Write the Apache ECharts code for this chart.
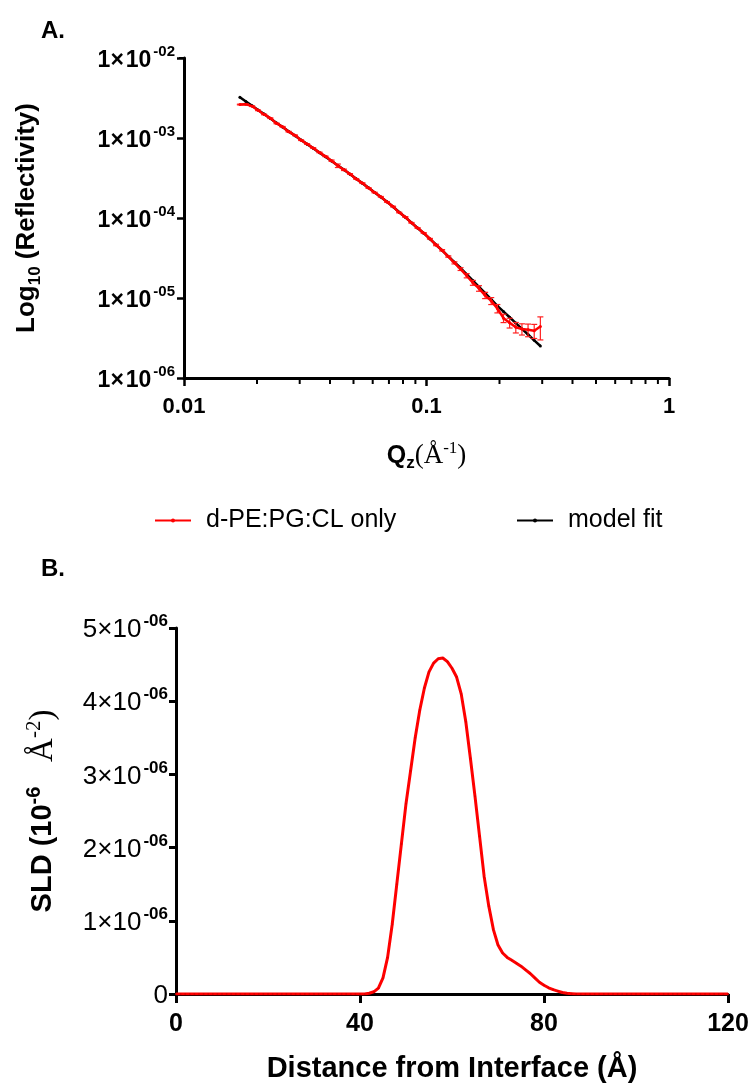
<!DOCTYPE html>
<html>
<head>
<meta charset="utf-8">
<script src="https://cdn.jsdelivr.net/npm/echarts@6/dist/echarts.min.js"></script>
<style>
html,body{margin:0;padding:0;background:#fff;}
#chart{width:754px;height:1084px;}
</style>
</head>
<body>
<div id="chart"></div>
<script>
// ---------- Panel A data ----------
const qValues = [
  0.0170, 0.0180, 0.0191, 0.0202, 0.0214, 0.0227, 0.0241, 0.0255, 0.0270, 0.0287,
  0.0304, 0.0322, 0.0341, 0.0362, 0.0383, 0.0406, 0.0431, 0.0457, 0.0484, 0.0513,
  0.0544, 0.0577, 0.0611, 0.0648, 0.0687, 0.0728, 0.0772, 0.0818, 0.0867, 0.0919,
  0.0974, 0.1033, 0.1095, 0.1160, 0.1230, 0.1304, 0.1382, 0.1465, 0.1553, 0.1646,
  0.1745, 0.1849, 0.1960, 0.2078, 0.2202, 0.2335, 0.2475, 0.2623, 0.2781, 0.2948
];
const reflectivity = [
  2.62e-3, 2.64e-3, 2.50e-3, 2.22e-3, 1.97e-3, 1.77e-3, 1.52e-3, 1.38e-3, 1.20e-3, 1.08e-3,
  9.4e-4, 8.4e-4, 7.5e-4, 6.6e-4, 5.9e-4, 5.2e-4, 4.5e-4, 4.0e-4, 3.55e-4, 3.08e-4,
  2.73e-4, 2.37e-4, 2.08e-4, 1.84e-4, 1.59e-4, 1.39e-4, 1.17e-4, 1.03e-4, 8.7e-5, 7.5e-5,
  6.5e-5, 5.5e-5, 4.6e-5, 3.95e-5, 3.3e-5, 2.75e-5, 2.3e-5, 1.9e-5, 1.55e-5, 1.32e-5,
  1.08e-5, 9.2e-6, 7.4e-6, 5.6e-6, 4.9e-6, 4.3e-6, 4.1e-6, 4.0e-6, 3.9e-6, 4.4e-6
];
const relErrPct = [
  1, 1, 1, 1, 1, 1, 1, 1, 1, 1,
  1, 1, 1, 1, 1, 2, 5, 2, 1, 1,
  1, 1, 1, 1, 1, 1, 1, 1, 1, 1,
  1, 1, 2, 2, 2, 3, 4, 6, 7, 8,
  9, 10, 12, 12, 14, 15, 16, 18, 20, 32
];
const modelFit = [
  3.24e-3, 2.86e-3, 2.53e-3, 2.24e-3, 1.99e-3, 1.75e-3, 1.54e-3, 1.37e-3, 1.21e-3, 1.07e-3,
  9.46e-4, 8.38e-4, 7.43e-4, 6.56e-4, 5.82e-4, 5.15e-4, 4.54e-4, 4.01e-4, 3.53e-4, 3.10e-4,
  2.71e-4, 2.38e-4, 2.09e-4, 1.83e-4, 1.60e-4, 1.38e-4, 1.18e-4, 1.02e-4, 8.74e-5, 7.51e-5,
  6.46e-5, 5.48e-5, 4.63e-5, 3.93e-5, 3.31e-5, 2.80e-5, 2.37e-5, 1.98e-5, 1.65e-5, 1.38e-5,
  1.15e-5, 9.59e-6, 7.98e-6, 6.76e-6, 5.74e-6, 4.86e-6, 4.12e-6, 3.50e-6, 2.96e-6, 2.51e-6
];
const xMinorTicksA = [0.02,0.03,0.04,0.05,0.06,0.07,0.08,0.09,0.2,0.3,0.4,0.5,0.6,0.7,0.8,0.9];
const yMinorMantissas = [2,3,4,5,6,7,8,9];
const yMinorDecades = [-6,-5,-4,-3];
const seriesNames = ['d-PE:PG:CL only', 'model fit'];

// ---------- Panel B data ----------
const distance = [];
for (let i = 0; i <= 120; i++) distance.push(i);
const sldValues = [ // units of 1e-6 Å^-2, one per Å from 0 to 120
  0,0,0,0,0,0,0,0,0,0,
  0,0,0,0,0,0,0,0,0,0,
  0,0,0,0,0,0,0,0,0,0,
  0,0,0,0,0,0,0,0,0,0,
  0,0,0.01,0.03,0.08,0.22,0.5,0.95,1.5,2.05,
  2.6,3.05,3.5,3.88,4.18,4.40,4.52,4.58,4.59,4.54,
  4.45,4.33,4.10,3.72,3.22,2.70,2.15,1.60,1.20,0.88,
  0.67,0.56,0.50,0.46,0.42,0.38,0.33,0.28,0.22,0.16,
  0.12,0.085,0.06,0.04,0.02,0.01,0.005,0,0,0,
  0,0,0,0,0,0,0,0,0,0,
  0,0,0,0,0,0,0,0,0,0,
  0,0,0,0,0,0,0,0,0,0,
  0
];

const FONT = '"Liberation Sans", Arial, sans-serif';
const SERIF = '"Liberation Serif", "Times New Roman", serif';

const yMinorTicksA = [];
yMinorDecades.forEach(d => yMinorMantissas.forEach(m => yMinorTicksA.push(m * Math.pow(10, d))));

function pad2(n){ const a = Math.abs(n); return (n < 0 ? '-' : '') + (a < 10 ? '0' : '') + a; }

const chart = echarts.init(document.getElementById('chart'), null, {renderer: 'canvas'});

const tickRender = function(axis) {
  return function(params, api) {
    const v = api.value(0);
    let p, shape;
    if (axis === 'x') {
      p = api.coord([v, 1e-6]);
      shape = {x1: p[0], y1: p[1], x2: p[0], y2: p[1] + 6};
    } else {
      p = api.coord([0.01, v]);
      shape = {x1: p[0] - 5, y1: p[1], x2: p[0], y2: p[1]};
    }
    return {type: 'line', shape: shape, style: {stroke: '#000', lineWidth: 2}};
  };
};

const option = {
  backgroundColor: '#fff',
  animation: false,
  title: [
    {text: 'A.', left: 36, top: 14, textStyle: {fontFamily: FONT, fontSize: 24, fontWeight: 'bold', color: '#000'}},
    {text: 'B.', left: 36, top: 552, textStyle: {fontFamily: FONT, fontSize: 24, fontWeight: 'bold', color: '#000'}}
  ],
  legend: [
    {data: [seriesNames[0]], left: 149, top: 503, itemWidth: 36, itemHeight: 5, itemGap: 10,
     textStyle: {fontFamily: FONT, fontSize: 25, color: '#000', padding: [0,0,0,10]}},
    {data: [seriesNames[1]], left: 511, top: 503, itemWidth: 36, itemHeight: 5, itemGap: 10,
     textStyle: {fontFamily: FONT, fontSize: 25, color: '#000', padding: [0,0,0,10]}}
  ],
  grid: [
    {left: 184, top: 58, width: 485, height: 320},
    {left: 176, top: 628, width: 552, height: 367}
  ],
  xAxis: [
    {
      gridIndex: 0, type: 'log', logBase: 10, min: 0.01, max: 1,
      axisLine: {show: true, onZero: false, lineStyle: {color: '#000', width: 3}},
      axisTick: {show: true, inside: false, length: 8, lineStyle: {color: '#000', width: 2.5}},
      splitLine: {show: false},
      axisLabel: {margin: 18, fontFamily: FONT, fontSize: 22, fontWeight: 'bold', color: '#000',
        formatter: v => (Math.abs(v - 0.01) < 1e-9 ? '0.01' : Math.abs(v - 0.1) < 1e-9 ? '0.1' : '1')},
      name: '{q|Q}{z|z}{p|(Å}{s|-1}{p|)}',
      nameLocation: 'middle', nameGap: 62,
      nameTextStyle: {
        rich: {
          q: {fontFamily: FONT, fontSize: 25, fontWeight: 'bold', color: '#000', lineHeight: 32, verticalAlign: 'middle'},
          z: {fontFamily: FONT, fontSize: 17, fontWeight: 'bold', color: '#000', lineHeight: 32, verticalAlign: 'bottom'},
          p: {fontFamily: SERIF, fontSize: 27, color: '#000', lineHeight: 32, verticalAlign: 'middle'},
          s: {fontFamily: SERIF, fontSize: 17, color: '#000', lineHeight: 32, verticalAlign: 'top'}
        }
      }
    },
    {
      gridIndex: 1, type: 'value', min: 0, max: 120, interval: 40,
      axisLine: {show: true, onZero: false, lineStyle: {color: '#000', width: 3}},
      axisTick: {show: true, inside: false, length: 9, lineStyle: {color: '#000', width: 3}},
      splitLine: {show: false},
      axisLabel: {margin: 18, fontFamily: FONT, fontSize: 25, color: '#000', fontWeight: 'bold'},
      name: 'Distance from Interface (Å)',
      nameLocation: 'middle', nameGap: 60,
      nameTextStyle: {fontFamily: FONT, fontSize: 29, fontWeight: 'bold', color: '#000'}
    }
  ],
  yAxis: [
    {
      gridIndex: 0, type: 'log', logBase: 10, min: 1e-6, max: 1e-2,
      axisLine: {show: true, onZero: false, lineStyle: {color: '#000', width: 3}},
      axisTick: {show: true, inside: false, length: 7, lineStyle: {color: '#000', width: 2.5}},
      splitLine: {show: false},
      axisLabel: {
        margin: 9,
        formatter: v => '{b|1×\u200A10}{s|' + pad2(Math.round(Math.log10(v))) + '}',
        rich: {
          b: {fontFamily: FONT, fontSize: 23, fontWeight: 'bold', color: '#000', lineHeight: 28, verticalAlign: 'bottom'},
          s: {fontFamily: FONT, fontSize: 15, fontWeight: 'bold', color: '#000', lineHeight: 28, verticalAlign: 'top', padding: [0,0,0,2]}
        }
      },
      name: '{a|Log}{sub|10}{a| (Reflectivity)}',
      nameLocation: 'middle', nameRotate: 90, nameGap: 140,
      nameTextStyle: {
        rich: {
          a: {fontFamily: FONT, fontSize: 26, fontWeight: 'bold', color: '#000', lineHeight: 34, verticalAlign: 'middle'},
          sub: {fontFamily: FONT, fontSize: 17, fontWeight: 'bold', color: '#000', lineHeight: 34, verticalAlign: 'bottom'}
        }
      }
    },
    {
      gridIndex: 1, type: 'value', min: 0, max: 5e-6, interval: 1e-6,
      axisLine: {show: true, onZero: false, lineStyle: {color: '#000', width: 3}},
      axisTick: {show: true, inside: false, length: 7, lineStyle: {color: '#000', width: 3}},
      splitLine: {show: false},
      axisLabel: {
        margin: 8,
        formatter: v => {
          const n = Math.round(v / 1e-6);
          return n === 0 ? '{b|0}' : '{b|' + n + '×10}{s|-06}';
        },
        rich: {
          b: {fontFamily: FONT, fontSize: 26, color: '#000', lineHeight: 30, verticalAlign: 'bottom'},
          s: {fontFamily: FONT, fontSize: 17, fontWeight: 'bold', color: '#000', lineHeight: 30, verticalAlign: 'top', padding: [0,0,0,2]}
        }
      },
      name: '{a|SLD (10}{s|-6}{c|   Å}{cs|-2}{c|)}',
      nameLocation: 'middle', nameRotate: 90, nameGap: 114,
      nameTextStyle: {
        rich: {
          a: {fontFamily: FONT, fontSize: 29, fontWeight: 'bold', color: '#000', lineHeight: 38, verticalAlign: 'middle'},
          s: {fontFamily: FONT, fontSize: 20, fontWeight: 'bold', color: '#000', lineHeight: 38, verticalAlign: 'top'},
          c: {fontFamily: SERIF, fontSize: 33, color: '#000', lineHeight: 38, verticalAlign: 'middle'},
          cs: {fontFamily: SERIF, fontSize: 21, color: '#000', lineHeight: 38, verticalAlign: 'top'}
        }
      }
    }
  ],
  series: [
    {
      name: seriesNames[1], type: 'line', xAxisIndex: 0, yAxisIndex: 0,
      data: qValues.map((q, i) => [q, modelFit[i]]),
      color: '#000',
      lineStyle: {color: '#000', width: 2.5},
      symbol: 'circle', symbolSize: 3, showSymbol: true,
      itemStyle: {color: '#000'},
      z: 2
    },
    {
      name: seriesNames[0], type: 'line', xAxisIndex: 0, yAxisIndex: 0,
      data: qValues.map((q, i) => [q, reflectivity[i]]),
      color: '#ff0000',
      lineStyle: {color: '#ff0000', width: 2.5},
      symbol: 'circle', symbolSize: 3, showSymbol: true,
      itemStyle: {color: '#ff0000'},
      z: 3
    },
    {
      name: 'errorbars', type: 'custom', xAxisIndex: 0, yAxisIndex: 0,
      data: qValues.map((q, i) => [q, reflectivity[i] * (1 - relErrPct[i] / 100), reflectivity[i] * (1 + relErrPct[i] / 100)]),
      encode: {x: 0, y: [1, 2]},
      renderItem: function(params, api) {
        const x = api.value(0);
        const lo = api.coord([x, api.value(1)]);
        const hi = api.coord([x, api.value(2)]);
        const w = 3;
        const st = {stroke: '#ff2020', lineWidth: 1.2};
        return {type: 'group', children: [
          {type: 'line', shape: {x1: lo[0], y1: lo[1], x2: hi[0], y2: hi[1]}, style: st},
          {type: 'line', shape: {x1: hi[0] - w, y1: hi[1], x2: hi[0] + w, y2: hi[1]}, style: st},
          {type: 'line', shape: {x1: lo[0] - w, y1: lo[1], x2: lo[0] + w, y2: lo[1]}, style: st}
        ]};
      },
      z: 3, silent: true
    },
    {
      name: 'xminor', type: 'custom', xAxisIndex: 0, yAxisIndex: 0,
      data: xMinorTicksA.map(v => [v, 1e-6]),
      encode: {x: 0, y: 1},
      renderItem: tickRender('x'), silent: true, z: 5
    },
    {
      name: 'yminor', type: 'custom', xAxisIndex: 0, yAxisIndex: 0,
      data: yMinorTicksA.map(v => [0.01, v]),
      encode: {x: 0, y: 1},
      renderItem: tickRender('y'), silent: true, z: 5
    },
    {
      name: 'SLD', type: 'line', xAxisIndex: 1, yAxisIndex: 1,
      data: distance.map((d, i) => [d, sldValues[i] * 1e-6]),
      lineStyle: {color: '#ff0000', width: 3},
      symbol: 'circle', symbolSize: 2, showSymbol: true,
      itemStyle: {color: '#e00000'},
      z: 3
    }
  ]
};
chart.setOption(option);
</script>
</body>
</html>
